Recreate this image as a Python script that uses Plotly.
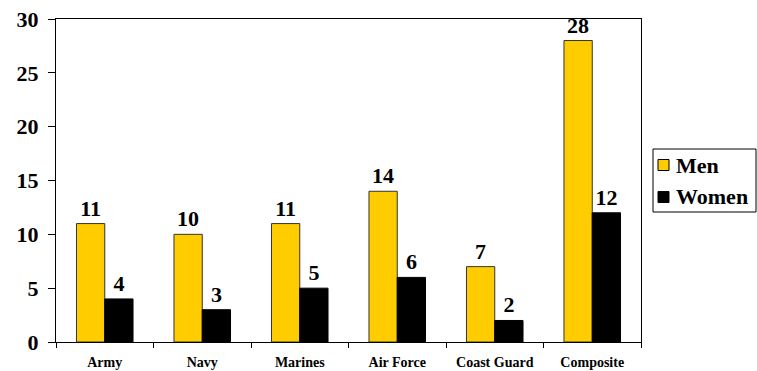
import plotly.graph_objects as go

categories = ["Army", "Navy", "Marines", "Air Force", "Coast Guard", "Composite"]
men = [11, 10, 11, 14, 7, 28]
women = [4, 3, 5, 6, 2, 12]
series_names = ["Men", "Women"]
series_colors = ["#FFCC00", "#000000"]
y_ticks = [0, 5, 10, 15, 20, 25, 30]

font = "Liberation Serif"
W, H = 757, 371
L, R, T, B = 56, 116, 19, 29
PW, PH = W - L - R, H - T - B


def px(x):
    return (x - L) / PW


def py(y):
    return (H - B - y) / PH


fig = go.Figure()
for name, vals, col, lc in [(series_names[0], men, series_colors[0], "#333333"),
                            (series_names[1], women, series_colors[1], "#000000")]:
    fig.add_trace(go.Bar(
        x=categories, y=vals, name=name, showlegend=False,
        marker=dict(color=col, line=dict(color=lc, width=1)),
        text=[str(v) for v in vals], textposition="outside",
        textfont=dict(family=font, size=22, color="black", weight="bold"),
        cliponaxis=False,
    ))

# legend box drawn by hand
shapes = [dict(type="rect", xref="paper", yref="paper",
               x0=px(653), x1=px(756), y0=py(212), y1=py(149),
               line=dict(color="black", width=1), fillcolor="white")]
annotations = []
for i, (name, col) in enumerate(zip(series_names, series_colors)):
    cy = 165 + i * 32
    shapes.append(dict(type="rect", xref="paper", yref="paper",
                       x0=px(658), x1=px(669), y0=py(cy + 5.5), y1=py(cy - 5.5),
                       line=dict(color="black", width=1), fillcolor=col))
    annotations.append(dict(xref="paper", yref="paper", x=px(674), y=py(cy),
                            xanchor="left", yanchor="middle", showarrow=False,
                            text=name,
                            font=dict(family=font, size=22, color="black", weight="bold")))

fig.update_layout(
    width=W, height=H,
    margin=dict(l=L, r=R, t=T, b=B, autoexpand=False),
    paper_bgcolor="white", plot_bgcolor="white",
    barmode="group", bargap=0.42, bargroupgap=0,
    font=dict(family=font, color="black"),
    showlegend=False,
    shapes=shapes, annotations=annotations,
    xaxis=dict(
        showline=True, linecolor="black", linewidth=1, mirror=True,
        ticks="outside", tickson="boundaries", ticklen=5, tickcolor="black",
        tickfont=dict(family=font, size=14, color="black", weight="bold"),
        ticklabelstandoff=7,
        showgrid=False,
    ),
    yaxis=dict(
        range=[0, 30], tickvals=y_ticks,
        showline=True, linecolor="black", linewidth=1, mirror=True,
        ticks="outside", ticklen=7, tickcolor="black",
        tickfont=dict(family=font, size=22, color="black", weight="bold"),
        ticklabelstandoff=5,
        showgrid=False, zeroline=False,
    ),
)

fig.write_html("out.html")
